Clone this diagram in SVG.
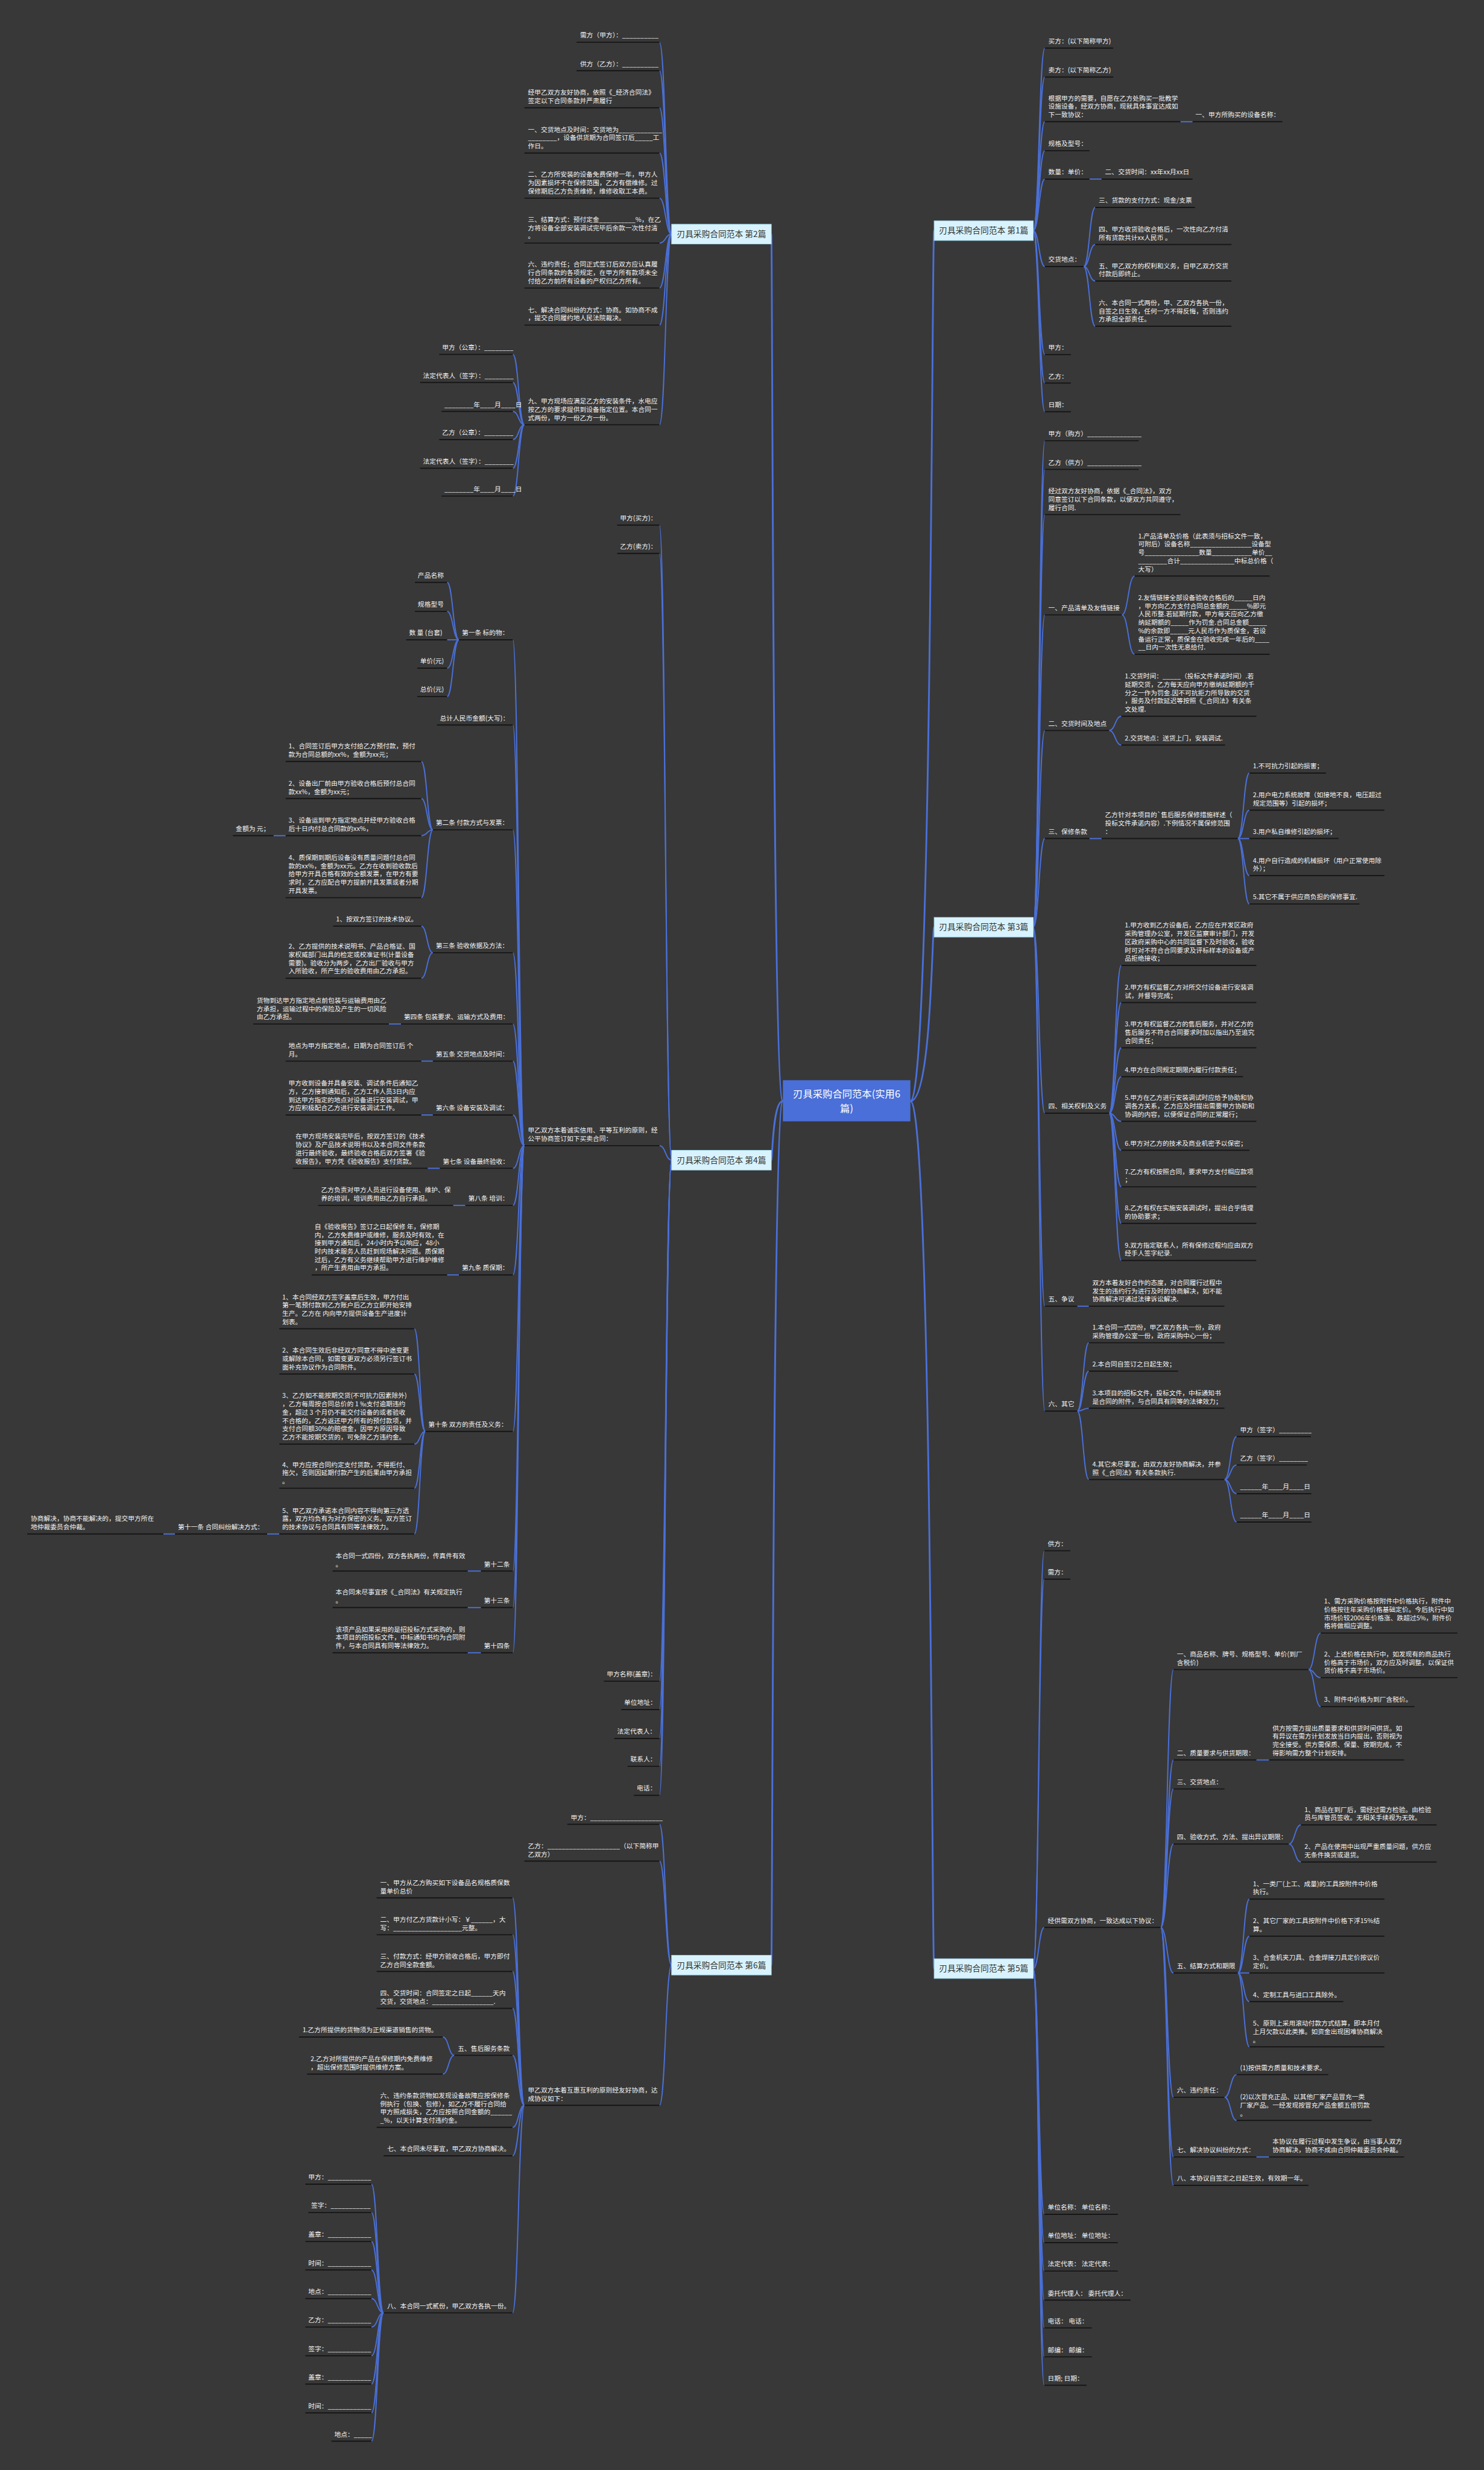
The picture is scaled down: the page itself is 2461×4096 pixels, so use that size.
<svg xmlns="http://www.w3.org/2000/svg" width="2461" height="4096" viewBox="0 0 2461 4096">
<style>
.t{font-family:"Noto Sans CJK SC","Noto Sans",sans-serif;font-size:11.2px;fill:#f4f4f4}
.u{stroke:#161616;stroke-width:2;fill:none}
.c{stroke:#4a70d8;stroke-width:2;fill:none}
.k{stroke:#4a70d8;stroke-width:3;fill:none}
.bx{fill:#d8f3fd;stroke:#a6dbf2;stroke-width:1}
.bt{font-family:"Noto Sans CJK SC","Noto Sans",sans-serif;font-size:14.3px;fill:#333;text-anchor:middle}
.ct{font-family:"Noto Sans CJK SC","Noto Sans",sans-serif;font-size:17px;fill:#fff;text-anchor:middle}
</style>
<rect width="2461" height="4096" fill="#383838"/>
<g transform="scale(0.961)">
<g id="connectors">
<path class="k" d="M1351 1900C1333 1900 1333 404 1331 404"/>
<path class="k" d="M1351 1900C1333 1900 1333 2002 1331 2002"/>
<path class="k" d="M1351 1900C1333 1900 1333 3391 1331 3391"/>
<path class="k" d="M1571 1900C1608 1900 1608 398 1612 398"/>
<path class="k" d="M1571 1900C1608 1900 1608 1600 1612 1600"/>
<path class="k" d="M1571 1900C1608 1900 1608 3397 1612 3397"/>
<path class="c" d="M1159 404C1148.5 404 1148.5 73 1138 73"/>
<path class="c" d="M1159 404C1148.5 404 1148.5 122 1138 122"/>
<path class="c" d="M1159 404C1148.5 404 1148.5 186 1138 186"/>
<path class="c" d="M1159 404C1148.5 404 1148.5 264 1138 264"/>
<path class="c" d="M1159 404C1148.5 404 1148.5 342 1138 342"/>
<path class="c" d="M1159 404C1148.5 404 1148.5 419.5 1138 419.5"/>
<path class="c" d="M1159 404C1148.5 404 1148.5 497 1138 497"/>
<path class="c" d="M1159 404C1148.5 404 1148.5 561 1138 561"/>
<path class="c" d="M1159 404C1148.5 404 1148.5 733 1138 733"/>
<path class="c" d="M905 733C895 733 895 611.5 885 611.5"/>
<path class="c" d="M905 733C895 733 895 660 885 660"/>
<path class="c" d="M905 733C895 733 895 710 885 710"/>
<path class="c" d="M905 733C895 733 895 758.5 885 758.5"/>
<path class="c" d="M905 733C895 733 895 808 885 808"/>
<path class="c" d="M905 733C895 733 895 856 885 856"/>
<path class="c" d="M1783 398C1793 398 1793 83 1803 83"/>
<path class="c" d="M1783 398C1793 398 1793 133 1803 133"/>
<path class="c" d="M1783 398C1793 398 1793 210 1803 210"/>
<path class="c" d="M1783 398C1793 398 1793 260 1803 260"/>
<path class="c" d="M1783 398C1793 398 1793 309 1803 309"/>
<path class="c" d="M1783 398C1793 398 1793 460 1803 460"/>
<path class="c" d="M1783 398C1793 398 1793 612 1803 612"/>
<path class="c" d="M1783 398C1793 398 1793 661 1803 661"/>
<path class="c" d="M1783 398C1793 398 1793 710.5 1803 710.5"/>
<path class="c" d="M2037 210H2058"/>
<path class="c" d="M1880 309H1901"/>
<path class="c" d="M1870 460C1880 460 1880 358 1890 358"/>
<path class="c" d="M1870 460C1880 460 1880 422 1890 422"/>
<path class="c" d="M1870 460C1880 460 1880 485 1890 485"/>
<path class="c" d="M1870 460C1880 460 1880 563 1890 563"/>
<path class="c" d="M1783 1600C1793 1600 1793 760.5 1803 760.5"/>
<path class="c" d="M1783 1600C1793 1600 1793 810 1803 810"/>
<path class="c" d="M1783 1600C1793 1600 1793 888 1803 888"/>
<path class="c" d="M1783 1600C1793 1600 1793 1061 1803 1061"/>
<path class="c" d="M1783 1600C1793 1600 1793 1260.5 1803 1260.5"/>
<path class="c" d="M1783 1600C1793 1600 1793 1447 1803 1447"/>
<path class="c" d="M1783 1600C1793 1600 1793 1921 1803 1921"/>
<path class="c" d="M1783 1600C1793 1600 1793 2254 1803 2254"/>
<path class="c" d="M1783 1600C1793 1600 1793 2435 1803 2435"/>
<path class="c" d="M1936 1061C1947 1061 1947 994 1958 994"/>
<path class="c" d="M1936 1061C1947 1061 1947 1129 1958 1129"/>
<path class="c" d="M1914 1260.5C1924.5 1260.5 1924.5 1236 1935 1236"/>
<path class="c" d="M1914 1260.5C1924.5 1260.5 1924.5 1285.6 1935 1285.6"/>
<path class="c" d="M1880 1447H1901"/>
<path class="c" d="M2136 1447C2146 1447 2146 1334 2156 1334"/>
<path class="c" d="M2136 1447C2146 1447 2146 1398 2156 1398"/>
<path class="c" d="M2136 1447H2156"/>
<path class="c" d="M2136 1447C2146 1447 2146 1511 2156 1511"/>
<path class="c" d="M2136 1447C2146 1447 2146 1560 2156 1560"/>
<path class="c" d="M1914 1921C1924.5 1921 1924.5 1666 1935 1666"/>
<path class="c" d="M1914 1921C1924.5 1921 1924.5 1730 1935 1730"/>
<path class="c" d="M1914 1921C1924.5 1921 1924.5 1808 1935 1808"/>
<path class="c" d="M1914 1921C1924.5 1921 1924.5 1858 1935 1858"/>
<path class="c" d="M1914 1921C1924.5 1921 1924.5 1935 1935 1935"/>
<path class="c" d="M1914 1921C1924.5 1921 1924.5 1985 1935 1985"/>
<path class="c" d="M1914 1921C1924.5 1921 1924.5 2048 1935 2048"/>
<path class="c" d="M1914 1921C1924.5 1921 1924.5 2111 1935 2111"/>
<path class="c" d="M1914 1921C1924.5 1921 1924.5 2175 1935 2175"/>
<path class="c" d="M1859 2254H1879"/>
<path class="c" d="M1859 2435C1869 2435 1869 2317 1879 2317"/>
<path class="c" d="M1859 2435C1869 2435 1869 2366 1879 2366"/>
<path class="c" d="M1859 2435C1869 2435 1869 2430 1879 2430"/>
<path class="c" d="M1859 2435C1869 2435 1869 2553 1879 2553"/>
<path class="c" d="M2113 2553C2123.5 2553 2123.5 2479 2134 2479"/>
<path class="c" d="M2113 2553C2123.5 2553 2123.5 2528 2134 2528"/>
<path class="c" d="M2113 2553C2123.5 2553 2123.5 2577.5 2134 2577.5"/>
<path class="c" d="M2113 2553C2123.5 2553 2123.5 2626.5 2134 2626.5"/>
<path class="c" d="M1783 3397C1792.5 3397 1792.5 2676 1802 2676"/>
<path class="c" d="M1783 3397C1792.5 3397 1792.5 2725 1802 2725"/>
<path class="c" d="M1783 3397C1792.5 3397 1792.5 3326 1802 3326"/>
<path class="c" d="M1783 3397C1792.5 3397 1792.5 3821 1802 3821"/>
<path class="c" d="M1783 3397C1792.5 3397 1792.5 3870 1802 3870"/>
<path class="c" d="M1783 3397C1792.5 3397 1792.5 3919 1802 3919"/>
<path class="c" d="M1783 3397C1792.5 3397 1792.5 3969 1802 3969"/>
<path class="c" d="M1783 3397C1792.5 3397 1792.5 4017 1802 4017"/>
<path class="c" d="M1783 3397C1792.5 3397 1792.5 4067 1802 4067"/>
<path class="c" d="M1783 3397C1792.5 3397 1792.5 4116 1802 4116"/>
<path class="c" d="M2003 3326C2014 3326 2014 2881 2025 2881"/>
<path class="c" d="M2003 3326C2014 3326 2014 3037 2025 3037"/>
<path class="c" d="M2003 3326C2014 3326 2014 3087 2025 3087"/>
<path class="c" d="M2003 3326C2014 3326 2014 3182 2025 3182"/>
<path class="c" d="M2003 3326C2014 3326 2014 3404.5 2025 3404.5"/>
<path class="c" d="M2003 3326C2014 3326 2014 3619 2025 3619"/>
<path class="c" d="M2003 3326C2014 3326 2014 3722 2025 3722"/>
<path class="c" d="M2003 3326C2014 3326 2014 3771 2025 3771"/>
<path class="c" d="M2258 2881C2268.5 2881 2268.5 2818 2279 2818"/>
<path class="c" d="M2258 2881C2268.5 2881 2268.5 2895 2279 2895"/>
<path class="c" d="M2258 2881C2268.5 2881 2268.5 2945 2279 2945"/>
<path class="c" d="M2168 3037H2190"/>
<path class="c" d="M2224 3182C2234.5 3182 2234.5 3149 2245 3149"/>
<path class="c" d="M2224 3182C2234.5 3182 2234.5 3213 2245 3213"/>
<path class="c" d="M2136 3404.5C2146 3404.5 2146 3277 2156 3277"/>
<path class="c" d="M2136 3404.5C2146 3404.5 2146 3341 2156 3341"/>
<path class="c" d="M2136 3404.5H2156"/>
<path class="c" d="M2136 3404.5C2146 3404.5 2146 3454 2156 3454"/>
<path class="c" d="M2136 3404.5C2146 3404.5 2146 3532 2156 3532"/>
<path class="c" d="M2113 3619C2123.5 3619 2123.5 3580 2134 3580"/>
<path class="c" d="M2113 3619C2123.5 3619 2123.5 3659 2134 3659"/>
<path class="c" d="M2168 3722H2190"/>
<path class="c" d="M1159 2002C1148.5 2002 1148.5 906 1138 906"/>
<path class="c" d="M1159 2002C1148.5 2002 1148.5 955 1138 955"/>
<path class="c" d="M1159 2002C1148.5 2002 1148.5 1977 1138 1977"/>
<path class="c" d="M1159 2002C1148.5 2002 1148.5 2901 1138 2901"/>
<path class="c" d="M1159 2002C1148.5 2002 1148.5 2950 1138 2950"/>
<path class="c" d="M1159 2002C1148.5 2002 1148.5 3000 1138 3000"/>
<path class="c" d="M1159 2002C1148.5 2002 1148.5 3048 1138 3048"/>
<path class="c" d="M1159 2002C1148.5 2002 1148.5 3098 1138 3098"/>
<path class="c" d="M905 1977C895 1977 895 1104 885 1104"/>
<path class="c" d="M905 1977C895 1977 895 1251 885 1251"/>
<path class="c" d="M905 1977C895 1977 895 1432 885 1432"/>
<path class="c" d="M905 1977C895 1977 895 1644 885 1644"/>
<path class="c" d="M905 1977C895 1977 895 1767 885 1767"/>
<path class="c" d="M905 1977C895 1977 895 1831 885 1831"/>
<path class="c" d="M905 1977C895 1977 895 1924 885 1924"/>
<path class="c" d="M905 1977C895 1977 895 2016 885 2016"/>
<path class="c" d="M905 1977C895 1977 895 2080 885 2080"/>
<path class="c" d="M905 1977C895 1977 895 2200 885 2200"/>
<path class="c" d="M905 1977C895 1977 895 2470 885 2470"/>
<path class="c" d="M905 1977C895 1977 895 2711 885 2711"/>
<path class="c" d="M905 1977C895 1977 895 2774 885 2774"/>
<path class="c" d="M905 1977C895 1977 895 2852 885 2852"/>
<path class="c" d="M792 1104C781.7 1104 781.7 1005 771.5 1005"/>
<path class="c" d="M792 1104C781.7 1104 781.7 1055 771.5 1055"/>
<path class="c" d="M792 1104H771.5"/>
<path class="c" d="M792 1104C781.7 1104 781.7 1153 771.5 1153"/>
<path class="c" d="M792 1104C781.7 1104 781.7 1202 771.5 1202"/>
<path class="c" d="M747 1432C737 1432 737 1314 727 1314"/>
<path class="c" d="M747 1432C737 1432 737 1378 727 1378"/>
<path class="c" d="M747 1432C737 1432 737 1442 727 1442"/>
<path class="c" d="M747 1432C737 1432 737 1549 727 1549"/>
<path class="c" d="M493 1442H472"/>
<path class="c" d="M747 1644C737 1644 737 1598 727 1598"/>
<path class="c" d="M747 1644C737 1644 737 1688 727 1688"/>
<path class="c" d="M692 1767H671"/>
<path class="c" d="M747 1831H727"/>
<path class="c" d="M747 1924H727"/>
<path class="c" d="M759 2016H738"/>
<path class="c" d="M803 2080H782"/>
<path class="c" d="M792 2200H771.5"/>
<path class="c" d="M734 2470C724.5 2470 724.5 2293 715 2293"/>
<path class="c" d="M734 2470C724.5 2470 724.5 2371 715 2371"/>
<path class="c" d="M734 2470C724.5 2470 724.5 2492 715 2492"/>
<path class="c" d="M734 2470C724.5 2470 724.5 2568 715 2568"/>
<path class="c" d="M734 2470C724.5 2470 724.5 2647 715 2647"/>
<path class="c" d="M482 2647H461"/>
<path class="c" d="M302 2647H282"/>
<path class="c" d="M830 2711H807"/>
<path class="c" d="M830 2774H807"/>
<path class="c" d="M830 2852H807"/>
<path class="c" d="M1159 3391C1148.5 3391 1148.5 3148 1138 3148"/>
<path class="c" d="M1159 3391C1148.5 3391 1148.5 3211.5 1138 3211.5"/>
<path class="c" d="M1159 3391C1148.5 3391 1148.5 3633 1138 3633"/>
<path class="c" d="M905 3633C894.7 3633 894.7 3275 884.5 3275"/>
<path class="c" d="M905 3633C894.7 3633 894.7 3338.6 884.5 3338.6"/>
<path class="c" d="M905 3633C894.7 3633 894.7 3402 884.5 3402"/>
<path class="c" d="M905 3633C894.7 3633 894.7 3465.6 884.5 3465.6"/>
<path class="c" d="M905 3633C894.7 3633 894.7 3546.7 884.5 3546.7"/>
<path class="c" d="M905 3633C894.7 3633 894.7 3671 884.5 3671"/>
<path class="c" d="M905 3633C894.7 3633 894.7 3720 884.5 3720"/>
<path class="c" d="M905 3633C894.7 3633 894.7 3991 884.5 3991"/>
<path class="c" d="M784 3546.7C774 3546.7 774 3515 764 3515"/>
<path class="c" d="M784 3546.7C774 3546.7 774 3579 764 3579"/>
<path class="c" d="M662 3991C651.5 3991 651.5 3769 641 3769"/>
<path class="c" d="M662 3991C651.5 3991 651.5 3818 641 3818"/>
<path class="c" d="M662 3991C651.5 3991 651.5 3868 641 3868"/>
<path class="c" d="M662 3991C651.5 3991 651.5 3917 641 3917"/>
<path class="c" d="M662 3991C651.5 3991 651.5 3966.5 641 3966.5"/>
<path class="c" d="M662 3991C651.5 3991 651.5 4015.5 641 4015.5"/>
<path class="c" d="M662 3991C651.5 3991 651.5 4065 641 4065"/>
<path class="c" d="M662 3991C651.5 3991 651.5 4114 641 4114"/>
<path class="c" d="M662 3991C651.5 3991 651.5 4163.6 641 4163.6"/>
<path class="c" d="M662 3991C651.5 3991 651.5 4212.6 641 4212.6"/>
</g>

<g id="center"><rect x="1351" y="1864" width="220" height="71" fill="#4a6fd8"/><text class="ct" x="1461" y="1894">刃具采购合同范本(实用6<tspan x="1461" dy="25">篇)</tspan></text></g>

<g id="p2"><rect class="bx" x="1159" y="387" width="172" height="34"/><text class="bt" x="1245" y="409">刃具采购合同范本 第2篇</text></g>
<g id="p2-1"><path class="u" d="M995 73H1138"/><text class="t" x="1001" y="65">需方（甲方）：__________</text></g>
<g id="p2-2"><path class="u" d="M995 122H1138"/><text class="t" x="1001" y="114">供方（乙方）：__________</text></g>
<g id="p2-3"><path class="u" d="M905 186H1138"/><text class="t" x="911" y="163.7">经甲乙双方友好协商，依照《_经济合同法》<tspan x="911" dy="14.3">签定以下合同条款并严肃履行</tspan></text></g>
<g id="p2-4"><path class="u" d="M905 264H1138"/><text class="t" x="911" y="227.4">一、交货地点及时间：交货地为____________<tspan x="911" dy="14.3">________，设备供货期为合同签订后_____工</tspan><tspan x="911" dy="14.3">作日。</tspan></text></g>
<g id="p2-5"><path class="u" d="M905 342H1138"/><text class="t" x="911" y="305.4">二、乙方所安装的设备免费保修一年，甲方人<tspan x="911" dy="14.3">为因素损坏不在保修范围，乙方有偿维修。过</tspan><tspan x="911" dy="14.3">保修期后乙方负责维修，维修收取工本费。</tspan></text></g>
<g id="p2-6"><path class="u" d="M905 419.5H1138"/><text class="t" x="911" y="382.9">三、结算方式：预付定金__________%，在乙<tspan x="911" dy="14.3">方将设备全部安装调试完毕后余款一次性付清</tspan><tspan x="911" dy="14.3">。</tspan></text></g>
<g id="p2-7"><path class="u" d="M905 497H1138"/><text class="t" x="911" y="460.4">六、违约责任；合同正式签订后双方应认真履<tspan x="911" dy="14.3">行合同条款的各项规定，在甲方所有款项未全</tspan><tspan x="911" dy="14.3">付给乙方前所有设备的产权归乙方所有。</tspan></text></g>
<g id="p2-8"><path class="u" d="M905 561H1138"/><text class="t" x="911" y="538.7">七、解决合同纠纷的方式：协商。如协商不成<tspan x="911" dy="14.3">，提交合同履约地人民法院裁决。</tspan></text></g>
<g id="p2-9"><path class="u" d="M905 733H1138"/><text class="t" x="911" y="696.4">九、甲方现场应满足乙方的安装条件，水电应<tspan x="911" dy="14.3">按乙方的要求提供到设备指定位置。本合同一</tspan><tspan x="911" dy="14.3">式两份，甲方一份乙方一份。</tspan></text></g>
<g id="p2-9a"><path class="u" d="M758 611.5H885"/><text class="t" x="763" y="603.5">甲方（公章）：________</text></g>
<g id="p2-9b"><path class="u" d="M725 660H885"/><text class="t" x="730" y="652">法定代表人（签字）：________</text></g>
<g id="p2-9c"><path class="u" d="M762 710H885"/><text class="t" x="767" y="702">________年____月____日</text></g>
<g id="p2-9d"><path class="u" d="M758 758.5H885"/><text class="t" x="763" y="750.5">乙方（公章）：________</text></g>
<g id="p2-9e"><path class="u" d="M725 808H885"/><text class="t" x="730" y="800">法定代表人（签字）：________</text></g>
<g id="p2-9f"><path class="u" d="M762 856H885"/><text class="t" x="767" y="848">________年____月____日</text></g>

<g id="p1"><rect class="bx" x="1612" y="381" width="171" height="34"/><text class="bt" x="1697.5" y="403">刃具采购合同范本 第1篇</text></g>
<g id="p1-1"><path class="u" d="M1803 83H1921"/><text class="t" x="1809" y="75">买方：(以下简称甲方)</text></g>
<g id="p1-2"><path class="u" d="M1803 133H1921"/><text class="t" x="1809" y="125">卖方：(以下简称乙方)</text></g>
<g id="p1-3"><path class="u" d="M1803 210H2037"/><text class="t" x="1809" y="173.4">根据甲方的需要，自愿在乙方处购买一批教学<tspan x="1809" dy="14.3">设施设备，经双方协商，现就具体事宜达成如</tspan><tspan x="1809" dy="14.3">下一致协议：</tspan></text></g>
<g id="p1-3a"><path class="u" d="M2058 210H2213"/><text class="t" x="2063" y="202">一、甲方所购买的设备名称：</text></g>
<g id="p1-4"><path class="u" d="M1803 260H1880"/><text class="t" x="1809" y="252">规格及型号：</text></g>
<g id="p1-5"><path class="u" d="M1803 309H1880"/><text class="t" x="1809" y="301">数量：单价：</text></g>
<g id="p1-5a"><path class="u" d="M1901 309H2058"/><text class="t" x="1907" y="301">二、交货时间：xx年xx月xx日</text></g>
<g id="p1-6"><path class="u" d="M1803 460H1870"/><text class="t" x="1809" y="452">交货地点：</text></g>
<g id="p1-6a"><path class="u" d="M1890 358H2062"/><text class="t" x="1896" y="350">三、货款的支付方式：现金/支票</text></g>
<g id="p1-6b"><path class="u" d="M1890 422H2125"/><text class="t" x="1896" y="399.7">四、甲方收货验收合格后，一次性向乙方付清<tspan x="1896" dy="14.3">所有货款共计xx人民币 。</tspan></text></g>
<g id="p1-6c"><path class="u" d="M1890 485H2125"/><text class="t" x="1896" y="462.7">五、甲乙双方的权利和义务，自甲乙双方交货<tspan x="1896" dy="14.3">付款后即终止。</tspan></text></g>
<g id="p1-6d"><path class="u" d="M1890 563H2125"/><text class="t" x="1896" y="526.4">六、本合同一式两份，甲、乙双方各执一份，<tspan x="1896" dy="14.3">自签之日生效，任何一方不得反悔，否则违约</tspan><tspan x="1896" dy="14.3">方承担全部责任。</tspan></text></g>
<g id="p1-7"><path class="u" d="M1803 612H1848"/><text class="t" x="1809" y="604">甲方：</text></g>
<g id="p1-8"><path class="u" d="M1803 661H1848"/><text class="t" x="1809" y="653">乙方：</text></g>
<g id="p1-9"><path class="u" d="M1803 710.5H1848"/><text class="t" x="1809" y="702.5">日期：</text></g>

<g id="p3"><rect class="bx" x="1612" y="1583" width="171" height="34"/><text class="bt" x="1697.5" y="1605">刃具采购合同范本 第3篇</text></g>
<g id="p3-1"><path class="u" d="M1803 760.5H1965"/><text class="t" x="1809" y="752.5">甲方（购方）_______________</text></g>
<g id="p3-2"><path class="u" d="M1803 810H1965"/><text class="t" x="1809" y="802">乙方（供方）_______________</text></g>
<g id="p3-3"><path class="u" d="M1803 888H2037"/><text class="t" x="1809" y="851.4">经过双方友好协商，依据《_合同法》，双方<tspan x="1809" dy="14.3">同意签订以下合同条款，以便双方共同遵守，</tspan><tspan x="1809" dy="14.3">履行合同.</tspan></text></g>
<g id="p3-4"><path class="u" d="M1803 1061H1936"/><text class="t" x="1809" y="1053">一、产品清单及友情链接</text></g>
<g id="p3-4a"><path class="u" d="M1958 994H2191"/><text class="t" x="1964" y="928.8">1.产品清单及价格（此表须与招标文件一致，<tspan x="1964" dy="14.3">可附后）设备名称_________________设备型</tspan><tspan x="1964" dy="14.3">号_______________数量___________单价__</tspan><tspan x="1964" dy="14.3">________合计_______________中标总价格（</tspan><tspan x="1964" dy="14.3">大写）</tspan></text></g>
<g id="p3-4b"><path class="u" d="M1958 1129H2191"/><text class="t" x="1964" y="1035.2">2.友情链接全部设备验收合格后的_____日内<tspan x="1964" dy="14.3">，甲方向乙方支付合同总金额的_____%即元</tspan><tspan x="1964" dy="14.3">人民币整.若延期付款，甲方每天应向乙方缴</tspan><tspan x="1964" dy="14.3">纳延期额的_____作为罚金.合同总金额_____</tspan><tspan x="1964" dy="14.3">%的余款即_____元人民币作为质保金，若设</tspan><tspan x="1964" dy="14.3">备运行正常，质保金在验收完成一年后的____</tspan><tspan x="1964" dy="14.3">__日内一次性无息给付.</tspan></text></g>
<g id="p3-5"><path class="u" d="M1803 1260.5H1914"/><text class="t" x="1809" y="1252.5">二、交货时间及地点</text></g>
<g id="p3-5a"><path class="u" d="M1935 1236H2168"/><text class="t" x="1941" y="1170.8">1.交货时间：_____（投标文件承诺时间）.若<tspan x="1941" dy="14.3">延期交货，乙方每天应向甲方缴纳延期额的千</tspan><tspan x="1941" dy="14.3">分之一作为罚金.因不可抗拒力所导致的交货</tspan><tspan x="1941" dy="14.3">，服务及付款延迟等按照《_合同法》有关条</tspan><tspan x="1941" dy="14.3">文处理.</tspan></text></g>
<g id="p3-5b"><path class="u" d="M1935 1285.6H2114"/><text class="t" x="1941" y="1277.6">2.交货地点：送货上门，安装调试.</text></g>
<g id="p3-6"><path class="u" d="M1803 1447H1880"/><text class="t" x="1809" y="1439">三、保修条款</text></g>
<g id="p3-6a"><path class="u" d="M1901 1447H2136"/><text class="t" x="1907" y="1410.4">乙方针对本项目的`售后服务保修措施祥述（<tspan x="1907" dy="14.3">投标文件承诺内容）.下例情况不属保修范围</tspan><tspan x="1907" dy="14.3">：</tspan></text></g>
<g id="p3-6a1"><path class="u" d="M2156 1334H2288"/><text class="t" x="2162" y="1326">1.不可抗力引起的损害；</text></g>
<g id="p3-6a2"><path class="u" d="M2156 1398H2389"/><text class="t" x="2162" y="1375.7">2.用户电力系统故障（如接地不良，电压超过<tspan x="2162" dy="14.3">规定范围等）引起的损坏；</tspan></text></g>
<g id="p3-6a3"><path class="u" d="M2156 1447H2310"/><text class="t" x="2162" y="1439">3.用户私自维修引起的损坏；</text></g>
<g id="p3-6a4"><path class="u" d="M2156 1511H2389"/><text class="t" x="2162" y="1488.7">4.用户自行造成的机械损坏（用户正常使用除<tspan x="2162" dy="14.3">外）；</tspan></text></g>
<g id="p3-6a5"><path class="u" d="M2156 1560H2346"/><text class="t" x="2162" y="1552">5.其它不属于供应商负担的保修事宜.</text></g>
<g id="p3-7"><path class="u" d="M1803 1921H1914"/><text class="t" x="1809" y="1913">四、相关权利及义务</text></g>
<g id="p3-7a"><path class="u" d="M1935 1666H2168"/><text class="t" x="1941" y="1600.8">1.甲方收到乙方设备后，乙方应在开发区政府<tspan x="1941" dy="14.3">采购管理办公室，开发区监察审计部门，开发</tspan><tspan x="1941" dy="14.3">区政府采购中心的共同监督下及时验收，验收</tspan><tspan x="1941" dy="14.3">时可对不符合合同要求及评标样本的设备或产</tspan><tspan x="1941" dy="14.3">品拒绝接收；</tspan></text></g>
<g id="p3-7b"><path class="u" d="M1935 1730H2168"/><text class="t" x="1941" y="1707.7">2.甲方有权监督乙方对所交付设备进行安装调<tspan x="1941" dy="14.3">试，并督导完成；</tspan></text></g>
<g id="p3-7c"><path class="u" d="M1935 1808H2168"/><text class="t" x="1941" y="1771.4">3.甲方有权监督乙方的售后服务，并对乙方的<tspan x="1941" dy="14.3">售后服务不符合合同要求时加以指出乃至追究</tspan><tspan x="1941" dy="14.3">合同责任；</tspan></text></g>
<g id="p3-7d"><path class="u" d="M1935 1858H2145"/><text class="t" x="1941" y="1850">4.甲方在合同规定期限内履行付款责任；</text></g>
<g id="p3-7e"><path class="u" d="M1935 1935H2168"/><text class="t" x="1941" y="1898.4">5.甲方在乙方进行安装调试时应给予协助和协<tspan x="1941" dy="14.3">调各方关系，乙方应及时提出需要甲方协助和</tspan><tspan x="1941" dy="14.3">协调的内容，以便保证合同的正常履行；</tspan></text></g>
<g id="p3-7f"><path class="u" d="M1935 1985H2156"/><text class="t" x="1941" y="1977">6.甲方对乙方的技术及商业机密予以保密；</text></g>
<g id="p3-7g"><path class="u" d="M1935 2048H2168"/><text class="t" x="1941" y="2025.7">7.乙方有权按照合同，要求甲方支付相应款项<tspan x="1941" dy="14.3">；</tspan></text></g>
<g id="p3-7h"><path class="u" d="M1935 2111H2168"/><text class="t" x="1941" y="2088.7">8.乙方有权在实施安装调试时，提出合乎情理<tspan x="1941" dy="14.3">的协助要求；</tspan></text></g>
<g id="p3-7i"><path class="u" d="M1935 2175H2168"/><text class="t" x="1941" y="2152.7">9.双方指定联系人，所有保修过程均应由双方<tspan x="1941" dy="14.3">经手人签字纪录.</tspan></text></g>
<g id="p3-8"><path class="u" d="M1803 2254H1859"/><text class="t" x="1809" y="2246">五、争议</text></g>
<g id="p3-8a"><path class="u" d="M1879 2254H2113"/><text class="t" x="1885" y="2217.4">双方本着友好合作的态度，对合同履行过程中<tspan x="1885" dy="14.3">发生的违约行为进行及时的协商解决，如不能</tspan><tspan x="1885" dy="14.3">协商解决可通过法律诉讼解决.</tspan></text></g>
<g id="p3-9"><path class="u" d="M1803 2435H1859"/><text class="t" x="1809" y="2427">六、其它</text></g>
<g id="p3-9a"><path class="u" d="M1879 2317H2113"/><text class="t" x="1885" y="2294.7">1.本合同一式四份，甲乙双方各执一份，政府<tspan x="1885" dy="14.3">采购管理办公室一份，政府采购中心一份；</tspan></text></g>
<g id="p3-9b"><path class="u" d="M1879 2366H2033"/><text class="t" x="1885" y="2358">2.本合同自签订之日起生效；</text></g>
<g id="p3-9c"><path class="u" d="M1879 2430H2113"/><text class="t" x="1885" y="2407.7">3.本项目的招标文件，投标文件，中标通知书<tspan x="1885" dy="14.3">是合同的附件，与合同具有同等的法律效力；</tspan></text></g>
<g id="p3-9d"><path class="u" d="M1879 2553H2113"/><text class="t" x="1885" y="2530.7">4.其它未尽事宜，由双方友好协商解决，并参<tspan x="1885" dy="14.3">照《_合同法》有关条款执行.</tspan></text></g>
<g id="p3-9d1"><path class="u" d="M2134 2479H2262"/><text class="t" x="2140" y="2471">甲方（签字）_________</text></g>
<g id="p3-9d2"><path class="u" d="M2134 2528H2255"/><text class="t" x="2140" y="2520">乙方（签字）________</text></g>
<g id="p3-9d3"><path class="u" d="M2134 2577.5H2263"/><text class="t" x="2140" y="2569.5">______年____月____日</text></g>
<g id="p3-9d4"><path class="u" d="M2134 2626.5H2263"/><text class="t" x="2140" y="2618.5">______年____月____日</text></g>

<g id="p5"><rect class="bx" x="1612" y="3380" width="171" height="34"/><text class="bt" x="1697.5" y="3402">刃具采购合同范本 第5篇</text></g>
<g id="p5-1"><path class="u" d="M1802 2676H1847"/><text class="t" x="1808" y="2668">供方：</text></g>
<g id="p5-2"><path class="u" d="M1802 2725H1847"/><text class="t" x="1808" y="2717">需方：</text></g>
<g id="p5-3"><path class="u" d="M1802 3326H2003"/><text class="t" x="1808" y="3318">经供需双方协商，一致达成以下协议：</text></g>
<g id="p5-3a"><path class="u" d="M2025 2881H2258"/><text class="t" x="2031" y="2858.7">一、商品名称、牌号、规格型号、单价(到厂<tspan x="2031" dy="14.3">含税价)</tspan></text></g>
<g id="p5-3a1"><path class="u" d="M2279 2818H2515"/><text class="t" x="2285" y="2767.1">1、需方采购价格按附件中价格执行，附件中<tspan x="2285" dy="14.3">价格按往年采购价格基础定价。今后执行中如</tspan><tspan x="2285" dy="14.3">市场价较2006年价格涨、跌超过5%，附件价</tspan><tspan x="2285" dy="14.3">格将做相应调整。</tspan></text></g>
<g id="p5-3a2"><path class="u" d="M2279 2895H2515"/><text class="t" x="2285" y="2858.4">2、上述价格在执行中，如发现有的商品执行<tspan x="2285" dy="14.3">价格高于市场价，双方应及时调整，以保证供</tspan><tspan x="2285" dy="14.3">货价格不高于市场价。</tspan></text></g>
<g id="p5-3a3"><path class="u" d="M2279 2945H2441"/><text class="t" x="2285" y="2937">3、附件中价格为到厂含税价。</text></g>
<g id="p5-3b"><path class="u" d="M2025 3037H2168"/><text class="t" x="2031" y="3029">二、质量要求与供货期限：</text></g>
<g id="p5-3b1"><path class="u" d="M2190 3037H2423"/><text class="t" x="2196" y="2986.1">供方按需方提出质量要求和供货时间供货。如<tspan x="2196" dy="14.3">有异议在需方计划发放当日内提出，否则视为</tspan><tspan x="2196" dy="14.3">完全接受。供方需保质、保量、按期完成，不</tspan><tspan x="2196" dy="14.3">得影响需方整个计划安排。</tspan></text></g>
<g id="p5-3c"><path class="u" d="M2025 3087H2113"/><text class="t" x="2031" y="3079">三、交货地点：</text></g>
<g id="p5-3d"><path class="u" d="M2025 3182H2224"/><text class="t" x="2031" y="3174">四、验收方式、方法、提出异议期限：</text></g>
<g id="p5-3d1"><path class="u" d="M2245 3149H2479"/><text class="t" x="2251" y="3126.7">1、商品在到厂后，需经过需方检验。由检验<tspan x="2251" dy="14.3">员与库管员签收。无相关手续视为无效。</tspan></text></g>
<g id="p5-3d2"><path class="u" d="M2245 3213H2479"/><text class="t" x="2251" y="3190.7">2、产品在使用中出现严重质量问题，供方应<tspan x="2251" dy="14.3">无条件换货或退货。</tspan></text></g>
<g id="p5-3e"><path class="u" d="M2025 3404.5H2136"/><text class="t" x="2031" y="3396.5">五、结算方式和期限</text></g>
<g id="p5-3e1"><path class="u" d="M2156 3277H2389"/><text class="t" x="2162" y="3254.7">1、一类厂(上工、成量)的工具按附件中价格<tspan x="2162" dy="14.3">执行。</tspan></text></g>
<g id="p5-3e2"><path class="u" d="M2156 3341H2389"/><text class="t" x="2162" y="3318.7">2、其它厂家的工具按附件中价格下浮15%结<tspan x="2162" dy="14.3">算。</tspan></text></g>
<g id="p5-3e3"><path class="u" d="M2156 3404.5H2389"/><text class="t" x="2162" y="3382.2">3、合金机夹刀具、合金焊接刀具定价按议价<tspan x="2162" dy="14.3">定价。</tspan></text></g>
<g id="p5-3e4"><path class="u" d="M2156 3454H2318"/><text class="t" x="2162" y="3446">4、定制工具与进口工具除外。</text></g>
<g id="p5-3e5"><path class="u" d="M2156 3532H2389"/><text class="t" x="2162" y="3495.4">5、原则上采用滚动付款方式结算，即本月付<tspan x="2162" dy="14.3">上月欠款以此类推。如资金出现困难协商解决</tspan><tspan x="2162" dy="14.3">。</tspan></text></g>
<g id="p5-3f"><path class="u" d="M2025 3619H2113"/><text class="t" x="2031" y="3611">六、违约责任：</text></g>
<g id="p5-3f1"><path class="u" d="M2134 3580H2292"/><text class="t" x="2140" y="3572">(1)按供需方质量和技术要求。</text></g>
<g id="p5-3f2"><path class="u" d="M2134 3659H2367"/><text class="t" x="2140" y="3622.4">(2)以次冒充正品、以其他厂家产品冒充一类<tspan x="2140" dy="14.3">厂家产品。一经发现按冒充产品金额五倍罚款</tspan><tspan x="2140" dy="14.3">。</tspan></text></g>
<g id="p5-3g"><path class="u" d="M2025 3722H2168"/><text class="t" x="2031" y="3714">七、解决协议纠纷的方式：</text></g>
<g id="p5-3g1"><path class="u" d="M2190 3722H2423"/><text class="t" x="2196" y="3699.7">本协议在履行过程中发生争议，由当事人双方<tspan x="2196" dy="14.3">协商解决，协商不成由合同仲裁委员会仲裁。</tspan></text></g>
<g id="p5-3h"><path class="u" d="M2025 3771H2258"/><text class="t" x="2031" y="3763">八、本协议自签定之日起生效，有效期一年。</text></g>
<g id="p5-4"><path class="u" d="M1802 3821H1929"/><text class="t" x="1808" y="3813">单位名称：  单位名称：</text></g>
<g id="p5-5"><path class="u" d="M1802 3870H1929"/><text class="t" x="1808" y="3862">单位地址：  单位地址：</text></g>
<g id="p5-6"><path class="u" d="M1802 3919H1929"/><text class="t" x="1808" y="3911">法定代表：  法定代表：</text></g>
<g id="p5-7"><path class="u" d="M1802 3969H1951"/><text class="t" x="1808" y="3961">委托代理人：  委托代理人：</text></g>
<g id="p5-8"><path class="u" d="M1802 4017H1884"/><text class="t" x="1808" y="4009">电话：  电话：</text></g>
<g id="p5-9"><path class="u" d="M1802 4067H1884"/><text class="t" x="1808" y="4059">邮编：  邮编：</text></g>
<g id="p5-10"><path class="u" d="M1802 4116H1875"/><text class="t" x="1808" y="4108">日期; 日期：</text></g>

<g id="p4"><rect class="bx" x="1159" y="1985" width="172" height="34"/><text class="bt" x="1245" y="2007">刃具采购合同范本 第4篇</text></g>
<g id="p4-1"><path class="u" d="M1065 906H1138"/><text class="t" x="1070" y="898">甲方(买方)：</text></g>
<g id="p4-2"><path class="u" d="M1065 955H1138"/><text class="t" x="1070" y="947">乙方(卖方)：</text></g>
<g id="p4-3"><path class="u" d="M905 1977H1138"/><text class="t" x="911" y="1954.7">甲乙双方本着诚实信用、平等互利的原则，经<tspan x="911" dy="14.3">公平协商签订如下买卖合同：</tspan></text></g>
<g id="p4-3a"><path class="u" d="M792 1104H885"/><text class="t" x="797" y="1096">第一条 标的物：</text></g>
<g id="p4-3a1"><path class="u" d="M716 1005H771.5"/><text class="t" x="721" y="997">产品名称</text></g>
<g id="p4-3a2"><path class="u" d="M716 1055H771.5"/><text class="t" x="721" y="1047">规格型号</text></g>
<g id="p4-3a3"><path class="u" d="M701 1104H771.5"/><text class="t" x="706" y="1096">数 量 (台套)</text></g>
<g id="p4-3a4"><path class="u" d="M720 1153H771.5"/><text class="t" x="725" y="1145">单价(元)</text></g>
<g id="p4-3a5"><path class="u" d="M720 1202H771.5"/><text class="t" x="725" y="1194">总价(元)</text></g>
<g id="p4-3b"><path class="u" d="M754 1251H885"/><text class="t" x="759" y="1243">总计人民币金额(大写)：</text></g>
<g id="p4-3c"><path class="u" d="M747 1432H885"/><text class="t" x="752" y="1424">第二条 付款方式与发票：</text></g>
<g id="p4-3c1"><path class="u" d="M493 1314H727"/><text class="t" x="498" y="1291.7">1、合同签订后甲方支付给乙方预付款，预付<tspan x="498" dy="14.3">款为合同总额的xx%，金额为xx元；</tspan></text></g>
<g id="p4-3c2"><path class="u" d="M493 1378H727"/><text class="t" x="498" y="1355.7">2、设备出厂前由甲方验收合格后预付总合同<tspan x="498" dy="14.3">款xx%，金额为xx元；</tspan></text></g>
<g id="p4-3c3"><path class="u" d="M493 1442H727"/><text class="t" x="498" y="1419.7">3、设备运到甲方指定地点并经甲方验收合格<tspan x="498" dy="14.3">后十日内付总合同款的xx%，</tspan></text></g>
<g id="p4-3c3a"><path class="u" d="M402 1442H472"/><text class="t" x="407" y="1434">金额为 元；</text></g>
<g id="p4-3c4"><path class="u" d="M493 1549H727"/><text class="t" x="498" y="1483.8">4、质保期到期后设备没有质量问题付总合同<tspan x="498" dy="14.3">款的xx%，金额为xx元。乙方在收到验收款后</tspan><tspan x="498" dy="14.3">给甲方开具合格有效的全额发票，在甲方有要</tspan><tspan x="498" dy="14.3">求时，乙方应配合甲方提前开具发票或者分期</tspan><tspan x="498" dy="14.3">开具发票。</tspan></text></g>
<g id="p4-3d"><path class="u" d="M747 1644H885"/><text class="t" x="752" y="1636">第三条 验收依据及方法：</text></g>
<g id="p4-3d1"><path class="u" d="M575 1598H727"/><text class="t" x="580" y="1590">1、按双方签订的技术协议。</text></g>
<g id="p4-3d2"><path class="u" d="M493 1688H727"/><text class="t" x="498" y="1637.1">2、乙方提供的技术说明书、产品合格证、国<tspan x="498" dy="14.3">家权威部门出具的检定或校准证书(计量设备</tspan><tspan x="498" dy="14.3">需要)。验收分为两步，乙方出厂验收与甲方</tspan><tspan x="498" dy="14.3">入所验收，所产生的验收费用由乙方承担。</tspan></text></g>
<g id="p4-3e"><path class="u" d="M692 1767H885"/><text class="t" x="697" y="1759">第四条 包装要求、运输方式及费用：</text></g>
<g id="p4-3e1"><path class="u" d="M437 1767H671"/><text class="t" x="443" y="1730.4">货物到达甲方指定地点前包装与运输费用由乙<tspan x="443" dy="14.3">方承担，运输过程中的保险及产生的一切风险</tspan><tspan x="443" dy="14.3">由乙方承担。</tspan></text></g>
<g id="p4-3f"><path class="u" d="M747 1831H885"/><text class="t" x="752" y="1823">第五条 交货地点及时间：</text></g>
<g id="p4-3f1"><path class="u" d="M493 1831H727"/><text class="t" x="498" y="1808.7">地点为甲方指定地点，日期为合同签订后 个<tspan x="498" dy="14.3">月。</tspan></text></g>
<g id="p4-3g"><path class="u" d="M747 1924H885"/><text class="t" x="752" y="1916">第六条 设备安装及调试：</text></g>
<g id="p4-3g1"><path class="u" d="M493 1924H727"/><text class="t" x="498" y="1873.1">甲方收到设备并具备安装、调试条件后通知乙<tspan x="498" dy="14.3">方，乙方接到通知后，乙方工作人员3日内应</tspan><tspan x="498" dy="14.3">到达甲方指定的地点对设备进行安装调试，甲</tspan><tspan x="498" dy="14.3">方应积极配合乙方进行安装调试工作。</tspan></text></g>
<g id="p4-3h"><path class="u" d="M759 2016H885"/><text class="t" x="764" y="2008">第七条 设备最终验收：</text></g>
<g id="p4-3h1"><path class="u" d="M505 2016H738"/><text class="t" x="510" y="1965.1">在甲方现场安装完毕后，按双方签订的《技术<tspan x="510" dy="14.3">协议》及产品技术说明书以及本合同文件条款</tspan><tspan x="510" dy="14.3">进行最终验收，最终验收合格后双方签署《验</tspan><tspan x="510" dy="14.3">收报告》，甲方凭《验收报告》支付货款。</tspan></text></g>
<g id="p4-3i"><path class="u" d="M803 2080H885"/><text class="t" x="808" y="2072">第八条 培训：</text></g>
<g id="p4-3i1"><path class="u" d="M549 2080H782"/><text class="t" x="554" y="2057.7">乙方负责对甲方人员进行设备使用、维护、保<tspan x="554" dy="14.3">养的培训，培训费用由乙方自行承担。</tspan></text></g>
<g id="p4-3j"><path class="u" d="M792 2200H885"/><text class="t" x="797" y="2192">第九条 质保期：</text></g>
<g id="p4-3j1"><path class="u" d="M538 2200H771.5"/><text class="t" x="543" y="2120.5">自《验收报告》签订之日起保修 年，保修期<tspan x="543" dy="14.3">内，乙方免费维护或维修，服务及时有效，在</tspan><tspan x="543" dy="14.3">接到甲方通知后，24小时内予以响应，48小</tspan><tspan x="543" dy="14.3">时内技术服务人员赶到现场解决问题。质保期</tspan><tspan x="543" dy="14.3">过后，乙方有义务继续帮助甲方进行维护维修</tspan><tspan x="543" dy="14.3">，所产生费用由甲方承担。</tspan></text></g>
<g id="p4-3k"><path class="u" d="M734 2470H885"/><text class="t" x="739" y="2462">第十条 双方的责任及义务：</text></g>
<g id="p4-3k1"><path class="u" d="M482 2293H715"/><text class="t" x="487" y="2242.1">1、本合同经双方签字盖章后生效，甲方付出<tspan x="487" dy="14.3">第一笔预付款到乙方账户后乙方立即开始安排</tspan><tspan x="487" dy="14.3">生产。乙方在 内向甲方提供设备生产进度计</tspan><tspan x="487" dy="14.3">划表。</tspan></text></g>
<g id="p4-3k2"><path class="u" d="M482 2371H715"/><text class="t" x="487" y="2334.4">2、本合同生效后非经双方同意不得中途变更<tspan x="487" dy="14.3">或解除本合同，如需变更双方必须另行签订书</tspan><tspan x="487" dy="14.3">面补充协议作为合同附件。</tspan></text></g>
<g id="p4-3k3"><path class="u" d="M482 2492H715"/><text class="t" x="487" y="2412.5">3、乙方如不能按期交货(不可抗力因素除外)<tspan x="487" dy="14.3">，乙方每周按合同总价的 1 ‰支付逾期违约</tspan><tspan x="487" dy="14.3">金，超过 3 个月仍不能交付设备的或者验收</tspan><tspan x="487" dy="14.3">不合格的，乙方返还甲方所有的预付款项，并</tspan><tspan x="487" dy="14.3">支付合同额30%的赔偿金，因甲方原因导致</tspan><tspan x="487" dy="14.3">乙方不能按期交货的，可免除乙方违约金。</tspan></text></g>
<g id="p4-3k4"><path class="u" d="M482 2568H715"/><text class="t" x="487" y="2531.4">4、甲方应按合同约定支付货款，不得拒付、<tspan x="487" dy="14.3">拖欠，否则因延期付款产生的后果由甲方承担</tspan><tspan x="487" dy="14.3">。</tspan></text></g>
<g id="p4-3k5"><path class="u" d="M482 2647H715"/><text class="t" x="487" y="2610.4">5、甲乙双方承诺本合同内容不得向第三方透<tspan x="487" dy="14.3">露，双方均负有为对方保密的义务。双方签订</tspan><tspan x="487" dy="14.3">的技术协议与合同具有同等法律效力。</tspan></text></g>
<g id="p4-3k5a"><path class="u" d="M302 2647H461"/><text class="t" x="307" y="2639">第十一条 合同纠纷解决方式：</text></g>
<g id="p4-3k5b"><path class="u" d="M47 2647H282"/><text class="t" x="53" y="2624.7">协商解决，协商不能解决的，提交甲方所在<tspan x="53" dy="14.3">地仲裁委员会仲裁。</tspan></text></g>
<g id="p4-3l"><path class="u" d="M830 2711H885"/><text class="t" x="835" y="2703">第十二条</text></g>
<g id="p4-3l1"><path class="u" d="M574 2711H807"/><text class="t" x="579" y="2688.7">本合同一式四份，双方各执两份，传真件有效<tspan x="579" dy="14.3">。</tspan></text></g>
<g id="p4-3m"><path class="u" d="M830 2774H885"/><text class="t" x="835" y="2766">第十三条</text></g>
<g id="p4-3m1"><path class="u" d="M574 2774H807"/><text class="t" x="579" y="2751.7">本合同未尽事宜按《_合同法》有关规定执行<tspan x="579" dy="14.3">。</tspan></text></g>
<g id="p4-3n"><path class="u" d="M830 2852H885"/><text class="t" x="835" y="2844">第十四条</text></g>
<g id="p4-3n1"><path class="u" d="M574 2852H807"/><text class="t" x="579" y="2815.4">该项产品如果采用的是招投标方式采购的，则<tspan x="579" dy="14.3">本项目的招投标文件，中标通知书均为合同附</tspan><tspan x="579" dy="14.3">件，与本合同具有同等法律效力。</tspan></text></g>
<g id="p4-4"><path class="u" d="M1042 2901H1138"/><text class="t" x="1047" y="2893">甲方名称(盖章)：</text></g>
<g id="p4-5"><path class="u" d="M1072 2950H1138"/><text class="t" x="1077" y="2942">单位地址：</text></g>
<g id="p4-6"><path class="u" d="M1060 3000H1138"/><text class="t" x="1065" y="2992">法定代表人：</text></g>
<g id="p4-7"><path class="u" d="M1083 3048H1138"/><text class="t" x="1088" y="3040">联系人：</text></g>
<g id="p4-8"><path class="u" d="M1094 3098H1138"/><text class="t" x="1099" y="3090">电话：</text></g>

<g id="p6"><rect class="bx" x="1159" y="3374" width="172" height="34"/><text class="bt" x="1245" y="3396">刃具采购合同范本 第6篇</text></g>
<g id="p6-1"><path class="u" d="M979 3148H1138"/><text class="t" x="985" y="3140">甲方：____________________</text></g>
<g id="p6-2"><path class="u" d="M905 3211.5H1138"/><text class="t" x="911" y="3189.2">乙方：____________________（以下简称甲<tspan x="911" dy="14.3">乙双方）</tspan></text></g>
<g id="p6-3"><path class="u" d="M905 3633H1138"/><text class="t" x="911" y="3610.7">甲乙双方本着互惠互利的原则经友好协商，达<tspan x="911" dy="14.3">成协议如下：</tspan></text></g>
<g id="p6-3a"><path class="u" d="M650 3275H884.5"/><text class="t" x="656" y="3252.7">一、甲方从乙方购买如下设备品名规格质保数<tspan x="656" dy="14.3">量单价总价</tspan></text></g>
<g id="p6-3b"><path class="u" d="M650 3338.6H884.5"/><text class="t" x="656" y="3316.3">二、甲方付乙方货款计小写：￥______，大<tspan x="656" dy="14.3">写：___________________元整。</tspan></text></g>
<g id="p6-3c"><path class="u" d="M650 3402H884.5"/><text class="t" x="656" y="3379.7">三、付款方式：经甲方验收合格后，甲方即付<tspan x="656" dy="14.3">乙方合同全款金额。</tspan></text></g>
<g id="p6-3d"><path class="u" d="M650 3465.6H884.5"/><text class="t" x="656" y="3443.3">四、交货时间：合同签定之日起______天内<tspan x="656" dy="14.3">交货，交货地点：_________________.</tspan></text></g>
<g id="p6-3e"><path class="u" d="M784 3546.7H884.5"/><text class="t" x="790" y="3538.7">五、售后服务条款</text></g>
<g id="p6-3e1"><path class="u" d="M516 3515H764"/><text class="t" x="522" y="3507">1.乙方所提供的货物须为正规渠道销售的货物。</text></g>
<g id="p6-3e2"><path class="u" d="M530 3579H764"/><text class="t" x="536" y="3556.7">2.乙方对所提供的产品在保修期内免费维修<tspan x="536" dy="14.3">，超出保修范围时提供维修方案。</tspan></text></g>
<g id="p6-3f"><path class="u" d="M650 3671H884.5"/><text class="t" x="656" y="3620.1">六、违约条款货物如发现设备故障应按保修条<tspan x="656" dy="14.3">例执行（包换、包修），如乙方不履行合同给</tspan><tspan x="656" dy="14.3">甲方照成损失，乙方应按照合同金额的______</tspan><tspan x="656" dy="14.3">_%，以天计算支付违约金。</tspan></text></g>
<g id="p6-3g"><path class="u" d="M662 3720H884.5"/><text class="t" x="668" y="3712">七、本合同未尽事宜，甲乙双方协商解决。</text></g>
<g id="p6-3h"><path class="u" d="M662 3991H884.5"/><text class="t" x="668" y="3983">八、本合同一式贰份，甲乙双方各执一份。</text></g>
<g id="p6-3h1"><path class="u" d="M527 3769H641"/><text class="t" x="532" y="3761">甲方：____________</text></g>
<g id="p6-3h2"><path class="u" d="M532 3818H641"/><text class="t" x="537" y="3810">签字：___________</text></g>
<g id="p6-3h3"><path class="u" d="M527 3868H641"/><text class="t" x="532" y="3860">盖章：____________</text></g>
<g id="p6-3h4"><path class="u" d="M527 3917H641"/><text class="t" x="532" y="3909">时间：____________</text></g>
<g id="p6-3h5"><path class="u" d="M527 3966.5H641"/><text class="t" x="532" y="3958.5">地点：____________</text></g>
<g id="p6-3h6"><path class="u" d="M527 4015.5H641"/><text class="t" x="532" y="4007.5">乙方：____________</text></g>
<g id="p6-3h7"><path class="u" d="M527 4065H641"/><text class="t" x="532" y="4057">签字：____________</text></g>
<g id="p6-3h8"><path class="u" d="M527 4114H641"/><text class="t" x="532" y="4106">盖章：____________</text></g>
<g id="p6-3h9"><path class="u" d="M527 4163.6H641"/><text class="t" x="532" y="4155.6">时间：____________</text></g>
<g id="p6-3h10"><path class="u" d="M572 4212.6H641"/><text class="t" x="577" y="4204.6">地点：_____</text></g>
</g>
</svg>
